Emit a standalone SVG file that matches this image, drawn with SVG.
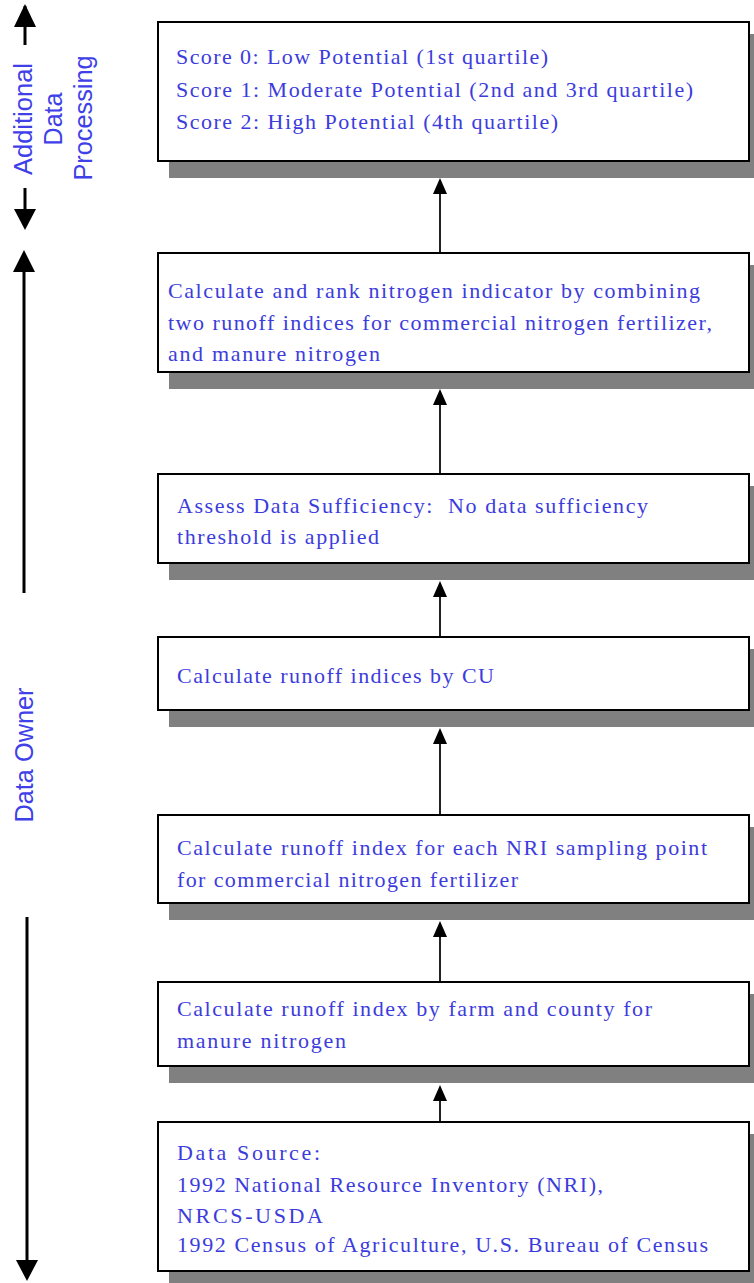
<svg xmlns="http://www.w3.org/2000/svg" width="754" height="1283" viewBox="0 0 754 1283">
<style>
.box{fill:#fff;stroke:#000;stroke-width:2}
.sh{fill:#808080}
.t{font-family:"Liberation Serif",serif;font-size:22px;fill:#3c3cdc}
.s{font-family:"Liberation Sans",Arial,sans-serif;font-size:25px;fill:#4040e8;text-anchor:middle}
.c{stroke:#222;stroke-width:2;fill:none}
.side{stroke:#000;stroke-width:3;fill:none}
</style>
<g id="side-labels">
<line class="side" x1="25" y1="45" x2="25" y2="6"/>
<path d="M25,4 L36,27 L14,27 Z" fill="#000"/>
<line class="side" x1="25" y1="188" x2="25" y2="212"/>
<path d="M25,230 L36,209 L14,209 Z" fill="#000"/>
<text class="s" transform="translate(32,119) rotate(-90)" textLength="112" lengthAdjust="spacingAndGlyphs">Additional</text>
<text class="s" transform="translate(62,119) rotate(-90)">Data</text>
<text class="s" transform="translate(92,118) rotate(-90)" textLength="125" lengthAdjust="spacingAndGlyphs">Processing</text>
<line class="side" x1="24" y1="593" x2="24" y2="270"/>
<path d="M24,250 L35,272 L13,272 Z" fill="#000"/>
<text class="s" transform="translate(33,755) rotate(-90)" textLength="135" lengthAdjust="spacingAndGlyphs">Data Owner</text>
<line class="side" x1="27" y1="917" x2="27" y2="1262"/>
<path d="M27,1281 L38,1260 L16,1260 Z" fill="#000"/>
</g>
<g id="connectors">
<line class="c" x1="440" y1="253" x2="440" y2="192"/>
<path d="M440,178 L447,194 L433,194 Z" fill="#000"/>
<line class="c" x1="440" y1="474" x2="440" y2="403"/>
<path d="M440,389 L447,405 L433,405 Z" fill="#000"/>
<line class="c" x1="440" y1="637" x2="440" y2="595"/>
<path d="M440,581 L447,597 L433,597 Z" fill="#000"/>
<line class="c" x1="440" y1="815" x2="440" y2="742"/>
<path d="M440,728 L447,744 L433,744 Z" fill="#000"/>
<line class="c" x1="440" y1="982" x2="440" y2="935"/>
<path d="M440,921 L447,937 L433,937 Z" fill="#000"/>
<line class="c" x1="440" y1="1122" x2="440" y2="1099"/>
<path d="M440,1085 L447,1101 L433,1101 Z" fill="#000"/>
</g>
<g id="n1">
<rect class="sh" x="169" y="34" width="592" height="144"/>
<rect class="box" x="158" y="22" width="591" height="139"/>
<text class="t" x="176" y="64" textLength="372">Score 0: Low Potential (1st quartile)</text>
<text class="t" x="176" y="97" textLength="517">Score 1: Moderate Potential (2nd and 3rd quartile)</text>
<text class="t" x="176" y="129" textLength="382">Score 2: High Potential (4th quartile)</text>
</g>
<g id="n2">
<rect class="sh" x="169" y="265" width="592" height="124"/>
<rect class="box" x="158" y="253" width="591" height="119"/>
<text class="t" x="168" y="298" textLength="532">Calculate and rank nitrogen indicator by combining</text>
<text class="t" x="168" y="330" textLength="544">two runoff indices for commercial nitrogen fertilizer,</text>
<text class="t" x="168" y="361" textLength="212">and manure nitrogen</text>
</g>
<g id="n3">
<rect class="sh" x="169" y="486" width="592" height="94"/>
<rect class="box" x="158" y="474" width="591" height="89"/>
<text class="t" x="177" y="513" textLength="471" xml:space="preserve">Assess Data Sufficiency:  No data sufficiency</text>
<text class="t" x="177" y="544" textLength="202">threshold is applied</text>
</g>
<g id="n4">
<rect class="sh" x="169" y="649" width="592" height="78"/>
<rect class="box" x="158" y="637" width="591" height="73"/>
<text class="t" x="177" y="683" textLength="317">Calculate runoff indices by CU</text>
</g>
<g id="n5">
<rect class="sh" x="169" y="827" width="592" height="93"/>
<rect class="box" x="158" y="815" width="591" height="88"/>
<text class="t" x="177" y="855" textLength="530">Calculate runoff index for each NRI sampling point</text>
<text class="t" x="177" y="887" textLength="341">for commercial nitrogen fertilizer</text>
</g>
<g id="n6">
<rect class="sh" x="169" y="994" width="592" height="89"/>
<rect class="box" x="158" y="982" width="591" height="84"/>
<text class="t" x="177" y="1016" textLength="475">Calculate runoff index by farm and county for</text>
<text class="t" x="177" y="1048" textLength="169">manure nitrogen</text>
</g>
<g id="n7">
<rect class="sh" x="169" y="1134" width="592" height="160"/>
<rect class="box" x="158" y="1122" width="591" height="149"/>
<text class="t" x="177" y="1160" textLength="143">Data Source:</text>
<text class="t" x="177" y="1192" textLength="426">1992 National Resource Inventory (NRI),</text>
<text class="t" x="177" y="1223" textLength="146">NRCS-USDA</text>
<text class="t" x="177" y="1252" textLength="531">1992 Census of Agriculture, U.S. Bureau of Census</text>
</g>
</svg>
